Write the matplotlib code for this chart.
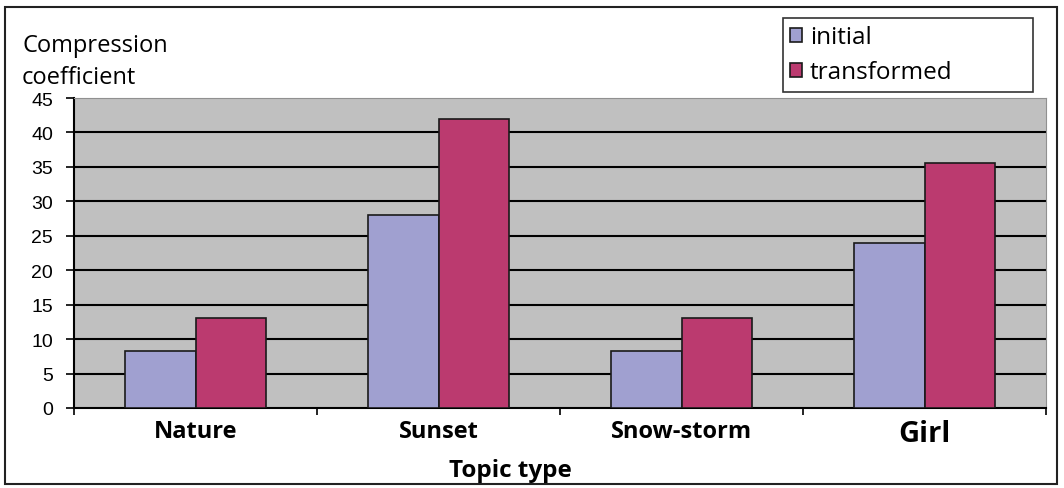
import matplotlib.pyplot as plt
import numpy as np
from matplotlib.patches import Rectangle

categories = ['Nature', 'Sunset', 'Snow-storm', 'Girl']
initial = [8.3, 28.0, 8.3, 23.9]
transformed = [13.1, 41.9, 13.1, 35.6]
y_ticks = [0, 5, 10, 15, 20, 25, 30, 35, 40, 45]

W, H = 1064, 489
fig = plt.figure(figsize=(W / 100, H / 100), dpi=100)

# рамка вокруг всей диаграммы
fig.patches.append(Rectangle((5 / W, 4 / H), 1052 / W, 477 / H, transform=fig.transFigure,
                             fill=False, edgecolor='#222222', linewidth=1.5))

ax = fig.add_axes([74 / W, (H - 409) / H, 972 / W, 310 / H])
ax.set_facecolor('#C0C0C0')

x = np.arange(len(categories))
bw = 0.29
ax.bar(x - bw / 2, initial, bw, color='#A0A0D0', edgecolor='#1a1a1a', linewidth=1.2,
       label='initial', zorder=3)
ax.bar(x + bw / 2, transformed, bw, color='#BB3A6F', edgecolor='#1a1a1a', linewidth=1.2,
       label='transformed', zorder=3)

ax.set_xlim(-0.5, len(categories) - 0.5)
ax.set_ylim(0, 45)
ax.set_yticks(y_ticks)
ax.set_yticklabels([str(v) for v in y_ticks], fontsize=14, family='Liberation Sans')
for v in y_ticks[1:-1]:
    ax.axhline(v, color='black', linewidth=1.5, zorder=1)

ax.set_xticks(x)
ax.set_xticklabels(categories, fontweight='bold', family='Open Sans', fontsize=17)
ax.get_xticklabels()[3].set_fontsize(21)
ax.tick_params(axis='x', length=0, pad=8)
ax.set_xticks(np.arange(-0.5, len(categories)), minor=True)
ax.tick_params(axis='x', which='minor', length=5, width=1.2, direction='out')
ax.tick_params(axis='y', length=6, width=1.2, direction='out', pad=9)

ax.spines['left'].set_color('black')
ax.spines['left'].set_linewidth(1.5)
ax.spines['bottom'].set_color('black')
ax.spines['bottom'].set_linewidth(1.5)
ax.spines['top'].set_color('#909090')
ax.spines['right'].set_color('#909090')

fig.text(22 / W, 1 - 62 / H, 'Compression\ncoefficient', fontsize=17, family='Open Sans',
         va='center', ha='left', linespacing=1.5)
fig.text(510 / W, 1 - 471 / H, 'Topic type', fontsize=17.5, fontweight='bold',
         family='Open Sans', ha='center', va='center')

leg = fig.legend(loc='upper left', bbox_to_anchor=(783 / W, 1 - 90 / H, 250 / W, 71 / H),
                 mode='expand', prop={'family': 'Open Sans', 'size': 17.5}, frameon=True,
                 fancybox=False, edgecolor='black', handlelength=0.5, handleheight=0.5,
                 handletextpad=0.3, borderpad=0.3, labelspacing=0.45, borderaxespad=0)
leg.get_frame().set_linewidth(1.2)

fig.savefig('out.png', dpi=100)
